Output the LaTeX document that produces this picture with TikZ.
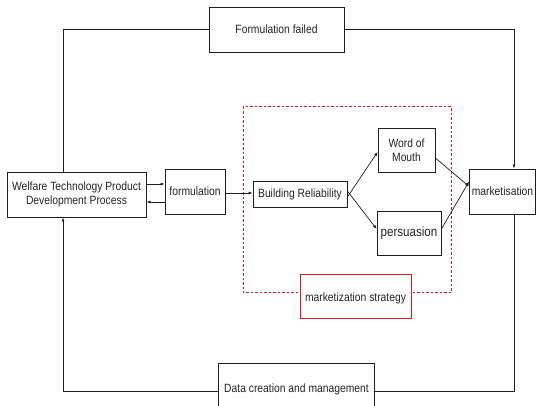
\documentclass[tikz,border=0pt]{standalone}
\usepackage{fontspec}
\setmainfont{Liberation Sans}[FakeStretch=0.86]
\usetikzlibrary{arrows.meta}
\definecolor{lncol}{RGB}{30,30,30}
\definecolor{mred}{RGB}{230,20,30}
\definecolor{txcol}{RGB}{35,35,35}
\tikzset{
  box/.style={draw=lncol, line width=0.8pt, fill=white, inner sep=0pt, align=center, font=\fontsize{12}{14.5}\selectfont, text=txcol},
  lbl/.style={inner sep=0pt, font=\fontsize{12}{14.5}\selectfont, text=txcol},
  conn/.style={draw=lncol, line width=0.7pt},
  arr/.style={conn, -{Latex[length=4pt,width=3pt]}},
}
\begin{document}
\begin{tikzpicture}[x=1pt,y=-1pt]
\useasboundingbox[fill=white] (0,0) rectangle (536,406);
% red dashed frame
\draw[mred, line width=1pt, dash pattern=on 2.5pt off 2pt] (243,107) rectangle (451,293);
% nodes
\node[box, minimum width=135pt, minimum height=45pt] (ff) at (276.5,29.5) {Formulation failed};
\node[box, minimum width=139pt, minimum height=45pt] (wtp) at (76.5,194.5) {Welfare Technology Product\\Development Process};
\node[box, minimum width=60pt, minimum height=45pt] (form) at (195,191.5) {formulation};
\node[box, minimum width=94pt, minimum height=26pt] (br) at (300,194) {Building Reliability};
\node[box, minimum width=57pt, minimum height=44pt] (wom) at (406.5,150) {Word of\\Mouth};
\node[box, minimum width=64pt, minimum height=44pt, font=\fontsize{13.5}{16}\selectfont] (pers) at (409,233) {persuasion};
\node[box, minimum width=66pt, minimum height=45pt] (mkt) at (502.5,191.5) {marketisation};
\node[box, draw=mred, line width=1pt, minimum width=111pt, minimum height=44pt] (ms) at (355.5,297) {};
\node[lbl] (mst) at (355.5,298.5) {marketization strategy};
\node[fill=white, minimum width=155pt, minimum height=42pt, inner sep=0pt] (data) at (296.5,385) {};
\draw[lncol, line width=0.8pt] (data.south west) -- (data.north west) -- (data.north east) -- (data.south east);
\node[lbl] (datat) at (296.5,389) {Data creation and management};
% corner coordinates
\coordinate (tl) at (63,29.5);
\coordinate (tr) at (514,29.5);
\coordinate (bl) at (63,391);
\coordinate (brc) at (514,391);
% connectors
\draw[conn] (ff.west) -- (tl) -- (wtp.north -| tl);
\draw[arr] (ff.east) -- (tr) -- (mkt.north -| tr);
\draw[conn] (mkt.south -| brc) -- (brc) -- (data.east |- brc);
\draw[arr] (data.west |- bl) -- (bl) -- (wtp.south -| bl);
\draw[arr] (wtp.east |- 0,184) -- (form.west |- 0,184);
\draw[arr] (form.west |- 0,202) -- (wtp.east |- 0,202);
\draw[arr] (form.east |- 0,193) -- (br.west |- 0,193);
\draw[arr] ([yshift=-3pt]br.east) -- ([yshift=-2pt]wom.west);
\draw[arr] ([yshift=3pt]br.east) -- ([yshift=4pt]pers.west);
\draw[arr] ([yshift=-8pt]wom.east) -- ([yshift=5pt]mkt.west);
\draw[arr] ([yshift=4pt]pers.east) -- ([yshift=10pt]mkt.west);
\end{tikzpicture}
\end{document}
